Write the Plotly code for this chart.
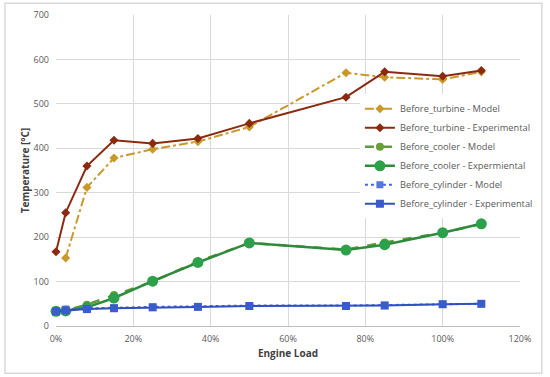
import plotly.graph_objects as go

load = [0.0, 0.025, 0.08, 0.15, 0.25, 0.367, 0.5, 0.75, 0.85, 1.0, 1.1]
load_model = [0.025, 0.08, 0.15, 0.25, 0.367, 0.5, 0.75, 0.85, 1.0, 1.1]

turbine_model = [153, 312, 378, 398, 415, 448, 570, 560, 555, 572]
turbine_exp = [167, 255, 360, 418, 411, 422, 456, 515, 572, 562, 575]
cooler_model = [33, 35, 48, 70, 100, 145, 187, 172, 188, 210, 230]
cooler_exp = [33, 34, 42, 63, 101, 143, 187, 171, 183, 210, 230]
cyl_model = [38, 40, 41, 43, 44, 46, 46, 47, 49, 50]
cyl_exp = [33, 35, 38, 40, 42, 43, 45, 45, 46, 49, 50]

fig = go.Figure()
fig.add_trace(go.Scatter(x=load_model, y=turbine_model, name="Before_turbine - Model",
    mode="lines+markers", line=dict(color="#C9982A", width=2, dash="dashdot"),
    marker=dict(symbol="diamond", size=7, color="#C9982A"), cliponaxis=False))
fig.add_trace(go.Scatter(x=load, y=turbine_exp, name="Before_turbine - Experimental",
    mode="lines+markers", line=dict(color="#8B2A10", width=2),
    marker=dict(symbol="diamond", size=7, color="#8B2A10"), cliponaxis=False))
fig.add_trace(go.Scatter(x=load, y=cooler_model, name="Before_cooler - Model",
    mode="lines+markers", line=dict(color="#5E9B3A", width=2.5, dash="dash"),
    marker=dict(symbol="circle", size=8, color="#6A9E3A"), cliponaxis=False))
fig.add_trace(go.Scatter(x=load, y=cooler_exp, name="Before_cooler - Expermiental",
    mode="lines+markers", line=dict(color="#2F8A3C", width=2.5),
    marker=dict(symbol="circle", size=11, color="#2CA04A"), cliponaxis=False))
fig.add_trace(go.Scatter(x=load_model, y=cyl_model, name="Before_cylinder - Model",
    mode="lines+markers", line=dict(color="#4466DD", width=2, dash="dot"),
    marker=dict(symbol="square", size=7, color="#5577DD"), cliponaxis=False))
fig.add_trace(go.Scatter(x=load, y=cyl_exp, name="Before_cylinder - Experimental",
    mode="lines+markers", line=dict(color="#3050C0", width=2),
    marker=dict(symbol="square", size=8, color="#3A5CCB"), cliponaxis=False))

fig.update_layout(
    width=550, height=377,
    margin=dict(l=56, r=26, t=15, b=51),
    paper_bgcolor="white", plot_bgcolor="white",
    font=dict(family="Open Sans, Liberation Sans, sans-serif", size=9, color="#595959"),
    showlegend=True,
    legend=dict(x=0.655, y=0.745, xanchor="left", yanchor="top",
                bgcolor="white", font=dict(size=9.3, color="#595959"),
                tracegroupgap=0, itemwidth=30),
    shapes=[dict(type="rect", xref="paper", yref="paper",
                 x0=-0.11, x1=1.047, y0=-0.152, y1=1.038,
                 line=dict(color="#D9D9D9", width=1.5), layer="below")],
)
fig.update_xaxes(range=[0, 1.2], dtick=0.2, tickformat=".0%",
    showgrid=True, gridcolor="#D9D9D9", gridwidth=1,
    showline=True, linecolor="#BFBFBF", zeroline=False, ticks="",
    ticklabelstandoff=4, automargin=False,
    title=dict(text="<b>Engine Load</b>", font=dict(size=10, color="#404040"), standoff=6),
    tickfont=dict(size=9, color="#595959"))
fig.update_yaxes(range=[0, 700], dtick=100,
    showgrid=True, gridcolor="#D9D9D9", gridwidth=1,
    showline=False, zeroline=False, ticks="",
    ticklabelstandoff=6, automargin=False,
    title=dict(text="<b>Temperature [°C]</b>", font=dict(size=10, color="#404040"), standoff=2),
    tickfont=dict(size=9, color="#595959"))

fig.write_html("out.html", config={"displayModeBar": False},
               post_script="document.body.style.margin='0';")
